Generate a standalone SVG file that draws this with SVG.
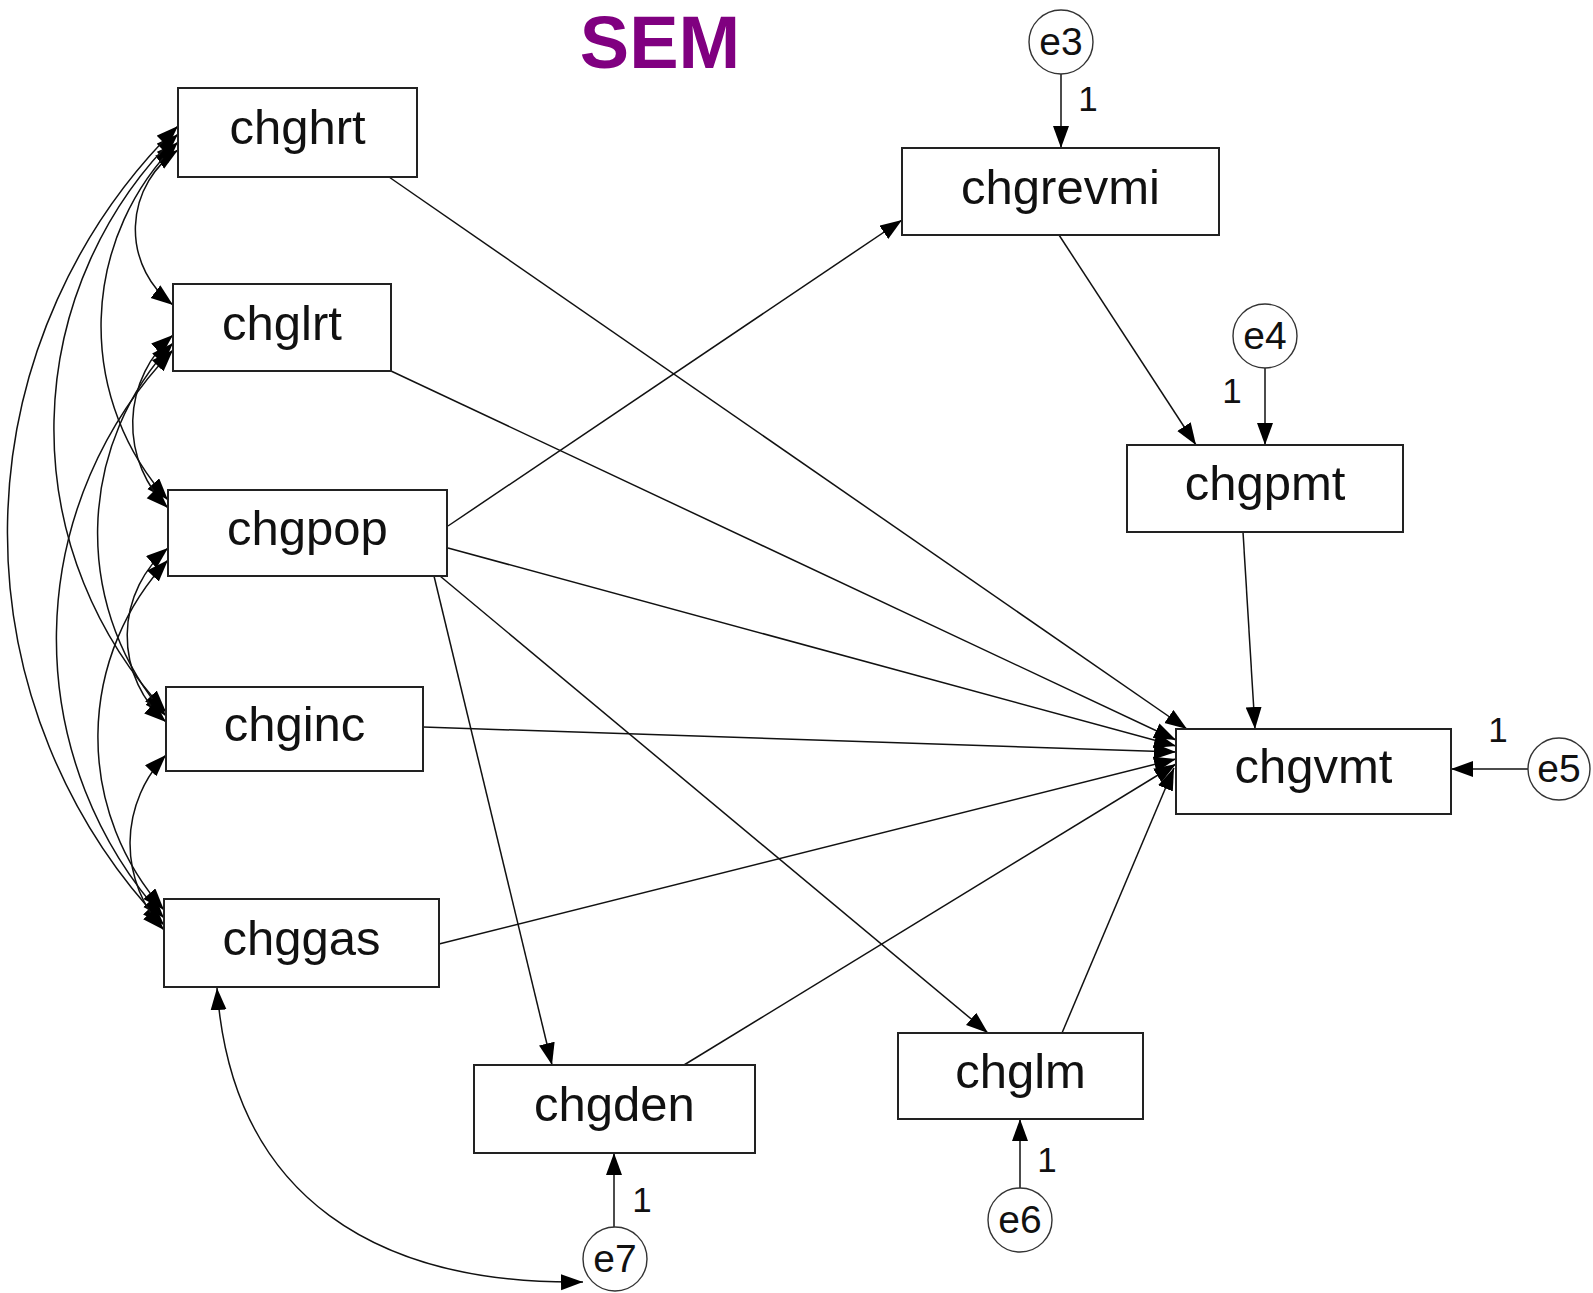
<svg xmlns="http://www.w3.org/2000/svg" width="1593" height="1293" viewBox="0 0 1593 1293">
<style>
.box{fill:#fff;stroke:#222;stroke-width:2}
.err{fill:#fff;stroke:#333;stroke-width:1.4}
.lbl{font-family:"Liberation Sans",Arial,sans-serif;font-size:49px;fill:#111;text-anchor:middle}
.elbl{font-family:"Liberation Sans",Arial,sans-serif;font-size:39px;fill:#111;text-anchor:middle}
.one{font-family:"Liberation Sans",Arial,sans-serif;font-size:35px;fill:#111;text-anchor:middle}
.title{font-family:"Liberation Sans",Arial,sans-serif;font-size:74px;font-weight:bold;fill:#800080;text-anchor:middle}
.c{fill:none;stroke:#111;stroke-width:1.5}
.a{marker-end:url(#ah)}
.d{marker-start:url(#ah);marker-end:url(#ah)}
</style>
<defs>
<marker id="ah" markerUnits="userSpaceOnUse" markerWidth="24" markerHeight="18" refX="22" refY="8" orient="auto-start-reverse">
<path d="M0,0 L22,8 L0,16 z" fill="#000"/>
</marker>
</defs>
<rect width="1593" height="1293" fill="#fff"/>
<text class="title" x="660" y="68">SEM</text>

<g id="connectors">
<path class="c d" d="M178,150 A95,95 0 0 0 173,305"/>
<path class="c d" d="M178,142 A259,259 0 0 0 168,500"/>
<path class="c d" d="M178,134 A413,413 0 0 0 166,712"/>
<path class="c d" d="M178,126 A570,570 0 0 0 164,925"/>
<path class="c d" d="M173,335 A118,118 0 0 0 168,508"/>
<path class="c d" d="M173,343 A278,278 0 0 0 166,716"/>
<path class="c d" d="M173,350 A416,416 0 0 0 164,918"/>
<path class="c d" d="M168,548 A115,115 0 0 0 166,722"/>
<path class="c d" d="M168,560 A259,259 0 0 0 164,910"/>
<path class="c d" d="M166,755 A127,127 0 0 0 164,930"/>
<path class="c d" d="M217,988 C232,1200 380,1285 583,1282"/>
<line class="c a" x1="389" y1="177" x2="1187" y2="729"/>
<line class="c a" x1="391" y1="371" x2="1176" y2="740"/>
<line class="c a" x1="448" y1="548" x2="1176" y2="746"/>
<line class="c a" x1="423" y1="727" x2="1176" y2="752"/>
<line class="c a" x1="439" y1="944" x2="1176" y2="759"/>
<line class="c a" x1="684" y1="1065" x2="1176" y2="764"/>
<line class="c a" x1="1062" y1="1033" x2="1174" y2="768"/>
<line class="c a" x1="1243" y1="532" x2="1255" y2="729"/>
<line class="c a" x1="448" y1="526" x2="902" y2="220"/>
<line class="c a" x1="1059" y1="235" x2="1196" y2="445"/>
<line class="c a" x1="434" y1="576" x2="552" y2="1065"/>
<line class="c a" x1="440" y1="576" x2="988" y2="1033"/>
<line class="c a" x1="1061" y1="74" x2="1061" y2="148"/>
<line class="c a" x1="1265" y1="368" x2="1265" y2="445"/>
<line class="c a" x1="1528" y1="769" x2="1451" y2="769"/>
<line class="c a" x1="1020" y1="1188" x2="1020" y2="1119"/>
<line class="c a" x1="614" y1="1227" x2="614" y2="1153"/>
</g>

<g id="chghrt"><rect class="box" x="178" y="88" width="239" height="89"/><text class="lbl" x="297.5" y="144">chghrt</text></g>
<g id="chglrt"><rect class="box" x="173" y="284" width="218" height="87"/><text class="lbl" x="282" y="339.5">chglrt</text></g>
<g id="chgpop"><rect class="box" x="168" y="490" width="279" height="86"/><text class="lbl" x="307.5" y="545">chgpop</text></g>
<g id="chginc"><rect class="box" x="166" y="687" width="257" height="84"/><text class="lbl" x="294.5" y="741">chginc</text></g>
<g id="chggas"><rect class="box" x="164" y="899" width="275" height="88"/><text class="lbl" x="301.5" y="955">chggas</text></g>
<g id="chgden"><rect class="box" x="474" y="1065" width="281" height="88"/><text class="lbl" x="614.5" y="1121">chgden</text></g>
<g id="chglm"><rect class="box" x="898" y="1033" width="245" height="86"/><text class="lbl" x="1020.5" y="1088">chglm</text></g>
<g id="chgrevmi"><rect class="box" x="902" y="148" width="317" height="87"/><text class="lbl" x="1060.5" y="203.5">chgrevmi</text></g>
<g id="chgpmt"><rect class="box" x="1127" y="445" width="276" height="87"/><text class="lbl" x="1265" y="500">chgpmt</text></g>
<g id="chgvmt"><rect class="box" x="1176" y="729" width="275" height="85"/><text class="lbl" x="1313.5" y="783">chgvmt</text></g>

<g id="e3"><circle class="err" cx="1061" cy="42" r="32"/><text class="elbl" x="1061" y="55">e3</text></g>
<g id="e4"><circle class="err" cx="1265" cy="336" r="32"/><text class="elbl" x="1265" y="349">e4</text></g>
<g id="e5"><circle class="err" cx="1559" cy="769" r="31"/><text class="elbl" x="1559" y="782">e5</text></g>
<g id="e6"><circle class="err" cx="1020" cy="1220" r="32"/><text class="elbl" x="1020" y="1233">e6</text></g>
<g id="e7"><circle class="err" cx="615" cy="1259" r="32"/><text class="elbl" x="615" y="1272">e7</text></g>

<g id="weights">
<text class="one" x="1088" y="111">1</text>
<text class="one" x="1232" y="403">1</text>
<text class="one" x="1498" y="742">1</text>
<text class="one" x="1047" y="1172">1</text>
<text class="one" x="642" y="1212">1</text>
</g>
</svg>
